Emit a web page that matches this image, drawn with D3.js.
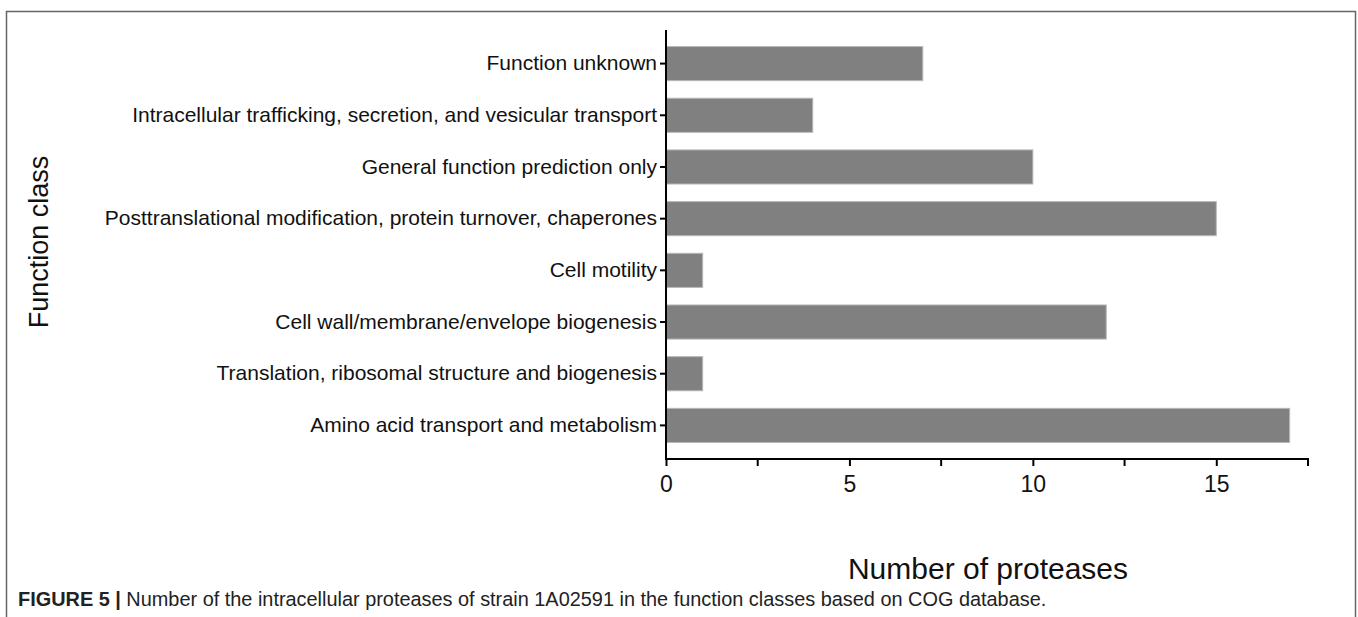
<!DOCTYPE html>
<html>
<head>
<meta charset="utf-8">
<script src="https://cdn.jsdelivr.net/npm/d3@7"></script>
<style>
  body { margin: 0; background: #fff; }
  text { font-family: "Liberation Sans", Arial, sans-serif; }
</style>
</head>
<body>
<div id="chart"></div>
<script>
// Data
let categories = [
  'Function unknown',
  'Intracellular trafficking, secretion, and vesicular transport',
  'General function prediction only',
  'Posttranslational modification, protein turnover, chaperones',
  'Cell motility',
  'Cell wall/membrane/envelope biogenesis',
  'Translation, ribosomal structure and biogenesis',
  'Amino acid transport and metabolism'
];
let counts = [7, 4, 10, 15, 1, 12, 1, 17];
let xTicks = [0, 5, 10, 15];
let xMinorTicks = [2.5, 7.5, 12.5, 17.5];

let svgWidth = 1358;
let svgHeight = 617;

// plot area
let plot = { left: 666, right: 1308, top: 30, bottom: 459 };

let svg = d3.select('#chart').append('svg')
  .attr('width', svgWidth)
  .attr('height', svgHeight);

// figure frame
svg.append('rect')
  .attr('x', 6.5).attr('y', 11.5)
  .attr('width', 1349).attr('height', 640)
  .attr('fill', 'none')
  .attr('stroke', '#666')
  .attr('stroke-width', 1.5);

let x = d3.scaleLinear().domain([0, 17.5]).range([plot.left, plot.right]);
let y = d3.scaleBand().domain(categories)
  .range([plot.top, plot.bottom])
  .paddingInner(0.34)
  .paddingOuter(0.32);

// bars
svg.append('g').selectAll('rect')
  .data(counts)
  .enter()
  .append('rect')
  .attr('x', x(0))
  .attr('y', (d, i) => y(categories[i]))
  .attr('width', d => x(d) - x(0))
  .attr('height', y.bandwidth())
  .attr('fill', '#808080')
  .attr('stroke', '#b8b8b8')
  .attr('stroke-width', 1);

// y axis
let yAxis = svg.append('g')
  .attr('transform', `translate(${plot.left}, 0)`)
  .call(d3.axisLeft(y).tickSize(6).tickPadding(3).tickSizeOuter(0));
yAxis.select('.domain').remove();
yAxis.append('line')
  .attr('x1', 0).attr('x2', 0)
  .attr('y1', plot.top).attr('y2', plot.bottom + 1)
  .attr('stroke', '#000').attr('stroke-width', 2);
yAxis.selectAll('.tick line').attr('stroke', '#000').attr('stroke-width', 2);
yAxis.selectAll('.tick text')
  .attr('fill', '#111')
  .style('font-size', '21px');

// x axis
let xAxis = svg.append('g')
  .attr('transform', `translate(0, ${plot.bottom})`)
  .call(d3.axisBottom(x).tickValues(xTicks).tickSize(7).tickPadding(10).tickSizeOuter(0));
xAxis.select('.domain').remove();
xAxis.append('line')
  .attr('x1', plot.left - 1).attr('x2', plot.right + 1)
  .attr('y1', 0).attr('y2', 0)
  .attr('stroke', '#000').attr('stroke-width', 2);
xAxis.selectAll('.tick line').attr('stroke', '#000').attr('stroke-width', 2);
xAxis.selectAll('.tick text')
  .attr('fill', '#111')
  .style('font-size', '23px');
xAxis.selectAll('.minor')
  .data(xMinorTicks)
  .enter()
  .append('line')
  .attr('x1', d => x(d)).attr('x2', d => x(d))
  .attr('y1', 0).attr('y2', 7)
  .attr('stroke', '#000').attr('stroke-width', 2);

// axis titles
svg.append('text')
  .attr('x', 988).attr('y', 579)
  .attr('text-anchor', 'middle')
  .attr('fill', '#111')
  .style('font-size', '30px')
  .text('Number of proteases');

svg.append('text')
  .attr('transform', 'translate(48, 242) rotate(-90)')
  .attr('text-anchor', 'middle')
  .attr('fill', '#111')
  .style('font-size', '27px')
  .text('Function class');

// caption
let caption = svg.append('text')
  .attr('x', 18).attr('y', 606)
  .attr('fill', '#222')
  .style('font-size', '19.9px');
caption.append('tspan')
  .attr('font-weight', 'bold')
  .text('FIGURE 5 | ');
caption.append('tspan')
  .text('Number of the intracellular proteases of strain 1A02591 in the function classes based on COG database.');
</script>
</body>
</html>
